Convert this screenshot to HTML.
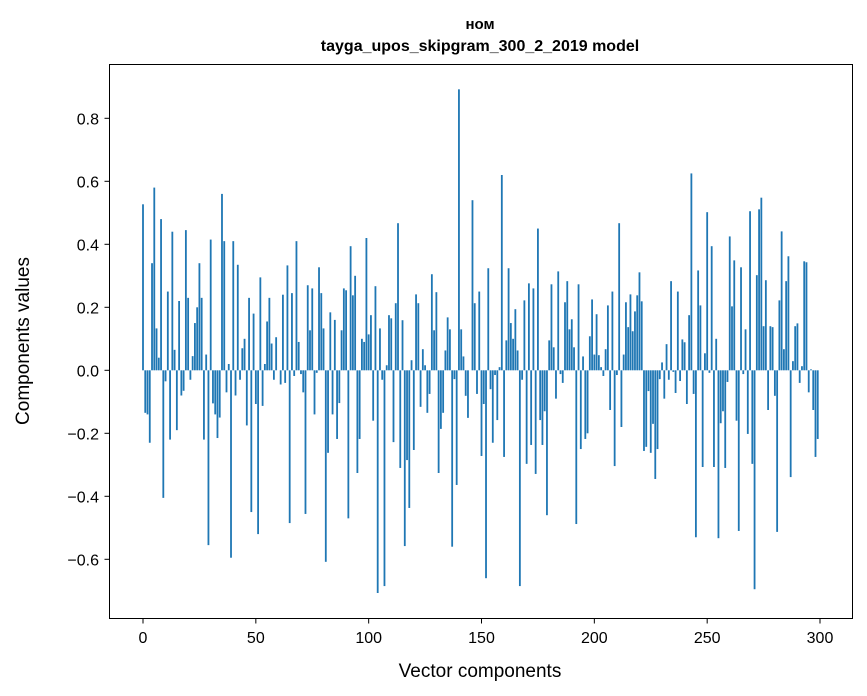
<!DOCTYPE html>
<html><head><meta charset="utf-8"><style>
html,body{margin:0;padding:0;background:#fff;}
svg{display:block;font-family:"Liberation Sans","DejaVu Sans",sans-serif;}
</style></head><body>
<svg id="chart" width="867" height="696" viewBox="0 0 867 696" xmlns="http://www.w3.org/2000/svg">
<rect x="0" y="0" width="867" height="696" fill="#fff"/>
<text x="480" y="29" text-anchor="middle" font-size="15" font-weight="bold" font-family="'Liberation Sans','DejaVu Sans',sans-serif">ном</text>
<text x="480" y="51" text-anchor="middle" font-size="16" font-weight="bold">tayga_upos_skipgram_300_2_2019 model</text>
<g id="bars"></g>
<g id="axes"></g>
<rect x="109.5" y="64.5" width="743" height="554" fill="none" stroke="#000" stroke-width="1"/>
<text x="480" y="677" text-anchor="middle" font-size="19">Vector components</text>
<text x="0" y="0" transform="translate(29,341) rotate(-90)" text-anchor="middle" font-size="19">Components values</text>
</svg>
<script>
const values = [
0.527,-0.135,-0.14,-0.23,0.34,0.58,0.133,0.04,0.48,-0.405,
-0.035,0.25,-0.22,0.44,0.065,-0.19,0.22,-0.08,-0.065,0.445,
0.23,-0.03,0.045,0.15,0.2,0.34,0.23,-0.22,0.05,-0.555,
0.415,-0.105,-0.14,-0.215,-0.15,0.56,0.41,-0.07,0.02,-0.595,
0.41,-0.08,0.335,-0.03,0.07,0.1,-0.175,0.23,-0.45,0.18,
-0.107,-0.52,0.295,-0.113,0.02,0.155,0.23,0.085,-0.03,0.105,
0.0,-0.045,0.24,-0.04,0.333,-0.485,0.245,-0.018,0.41,0.09,
-0.012,-0.07,-0.456,0.27,0.127,0.26,-0.14,-0.008,0.327,0.245,
0.133,-0.608,-0.262,0.184,-0.14,0.16,-0.218,-0.104,0.127,0.26,
0.254,-0.47,0.394,0.238,0.3,-0.326,-0.218,0.1,0.09,0.42,
0.114,0.175,-0.16,0.267,-0.707,0.133,-0.03,-0.685,0.016,0.175,
0.165,-0.228,0.213,0.467,-0.31,0.159,-0.558,-0.285,-0.437,0.032,
-0.253,0.241,0.213,-0.116,0.067,0.016,-0.135,-0.075,0.305,0.127,
0.248,-0.326,-0.186,-0.135,0.063,0.168,0.13,-0.56,-0.028,-0.364,
0.892,0.13,0.044,-0.081,-0.151,0.0,0.54,0.213,-0.075,0.25,
-0.272,-0.107,-0.66,0.324,-0.06,-0.23,-0.015,-0.158,0.01,0.62,
-0.275,0.095,0.324,0.15,0.1,0.194,0.063,-0.685,-0.03,0.222,
-0.297,0.276,-0.237,0.26,-0.329,0.45,-0.158,-0.237,-0.13,-0.46,
0.095,0.273,0.073,-0.09,0.314,-0.012,-0.04,0.216,0.283,0.13,
0.162,0.073,-0.488,0.273,-0.25,0.044,-0.218,-0.2,0.108,0.225,
0.05,0.178,0.048,0.01,-0.018,0.067,0.206,-0.126,0.25,-0.304,
-0.015,0.467,-0.18,0.05,0.216,0.137,0.241,0.124,0.187,0.238,
0.311,0.219,-0.256,-0.243,-0.066,-0.262,-0.17,-0.345,-0.25,-0.028,
0.025,-0.09,0.083,-0.03,0.283,-0.005,-0.072,0.25,-0.034,0.098,
0.089,-0.107,0.175,0.625,-0.075,-0.53,0.317,0.206,-0.307,0.054,
0.502,-0.008,0.394,-0.307,0.1,-0.533,-0.168,-0.13,-0.31,-0.037,
0.425,0.203,0.349,-0.16,-0.51,0.327,-0.012,0.13,-0.202,0.505,
-0.297,-0.695,0.302,0.511,0.548,0.14,0.286,-0.126,0.14,0.137,
-0.081,-0.513,0.222,0.441,0.067,0.283,0.362,-0.339,0.029,0.14,
0.149,-0.04,0.013,0.346,0.343,-0.07,0.003,-0.126,-0.275,-0.218
];
const xTicks = [0,50,100,150,200,250,300];
const yTicks = [-0.6,-0.4,-0.2,0.0,0.2,0.4,0.6,0.8];
const yTickLabels = ["\u22120.6","\u22120.4","\u22120.2","0.0","0.2","0.4","0.6","0.8"];

const NS = "http://www.w3.org/2000/svg";
const x0 = 143, xk = 2.2567;
const y0 = 370.3, yk = 315;
function xs(v){ return x0 + v*xk; }
function ys(v){ return y0 - v*yk; }

const bars = document.getElementById('bars');
values.forEach(function(v,i){
  const r = document.createElementNS(NS,'rect');
  const w = 0.8*xk;
  const top = Math.min(ys(v), ys(0));
  r.setAttribute('x', xs(i) - w/2);
  r.setAttribute('y', top);
  r.setAttribute('width', w);
  r.setAttribute('height', Math.abs(ys(v)-ys(0)));
  r.setAttribute('fill', '#1f77b4');
  
  
  bars.appendChild(r);
});

const axes = document.getElementById('axes');
xTicks.forEach(function(t){
  const l = document.createElementNS(NS,'line');
  l.setAttribute('x1', xs(t)); l.setAttribute('x2', xs(t));
  l.setAttribute('y1', 618.5); l.setAttribute('y2', 623.5);
  l.setAttribute('stroke', '#000');
  
  
  axes.appendChild(l);
  const tx = document.createElementNS(NS,'text');
  tx.setAttribute('x', xs(t)); tx.setAttribute('y', 643);
  tx.setAttribute('text-anchor', 'middle'); tx.setAttribute('font-size', '16');
  tx.textContent = String(t);
  
  
  axes.appendChild(tx);
});
yTicks.forEach(function(t,i){
  const l = document.createElementNS(NS,'line');
  l.setAttribute('x1', 104.5); l.setAttribute('x2', 109.5);
  l.setAttribute('y1', ys(t)); l.setAttribute('y2', ys(t));
  l.setAttribute('stroke', '#000');
  
  
  axes.appendChild(l);
  const tx = document.createElementNS(NS,'text');
  tx.setAttribute('x', 99); tx.setAttribute('y', ys(t) + 6);
  tx.setAttribute('text-anchor', 'end'); tx.setAttribute('font-size', '16');
  tx.textContent = yTickLabels[i];
  
  
  axes.appendChild(tx);
});
</script>
</body></html>
